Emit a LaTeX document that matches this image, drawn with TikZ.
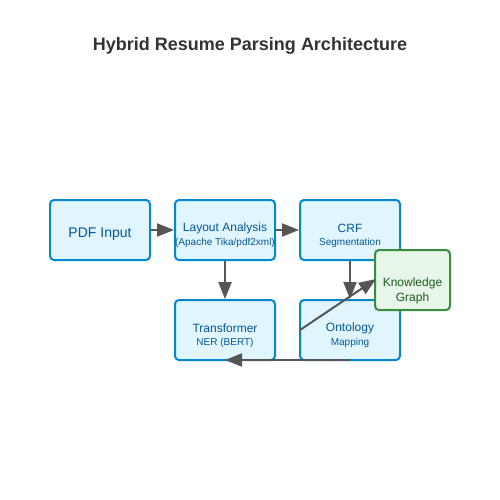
\documentclass[tikz,border=0pt]{standalone}
\usepackage{fontspec}
\setmainfont{Liberation Sans}
\usetikzlibrary{arrows.meta}
\definecolor{boxfill}{HTML}{E1F5FE}
\definecolor{boxline}{HTML}{0288D1}
\definecolor{boxtext}{HTML}{01579B}
\definecolor{kgfill}{HTML}{E8F5E9}
\definecolor{kgline}{HTML}{388E3C}
\definecolor{kgtext}{HTML}{1B5E20}
\definecolor{arr}{HTML}{555555}
\definecolor{ttl}{HTML}{333333}
\begin{document}
\begin{tikzpicture}[x=1pt,y=-1pt,
  box/.style={draw=boxline,fill=boxfill,line width=2pt,rounded corners=4pt,minimum width=100pt,minimum height=60pt,inner sep=0pt},
  kgbox/.style={draw=kgline,fill=kgfill,line width=2pt,rounded corners=4pt,minimum width=75pt,minimum height=60pt,inner sep=0pt},
  main/.style={text=boxtext,font=\fontsize{12}{14}\selectfont,inner sep=0pt},
  sub/.style={text=boxtext,font=\fontsize{10}{12}\selectfont,inner sep=0pt},
  conn/.style={draw=arr,line width=2pt,-{Triangle[length=17pt,width=13pt]}}]
\useasboundingbox (0,0) rectangle (500,500);
\node[text=ttl,font=\bfseries\fontsize{18}{22}\selectfont] (title) at (250,46) {Hybrid Resume Parsing Architecture};
\node[box] (pdf) at (100,230) {};
\node[box] (layout) at (225,230) {};
\node[box] (crf) at (350,230) {};
\node[box] (trans) at (225,330) {};
\node[box] (onto) at (350,330) {};
\node[main,font=\fontsize{14}{16}\selectfont] (pdft) at (100,234) {PDF Input};
\node[main] (layt) at (225,228) {Layout Analysis};
\node[sub] (lays) at (225,243) {(Apache Tika/pdf2xml)};
\node[main] (crft) at (350,228) {CRF};
\node[sub] (crfs) at (350,243) {Segmentation};
\node[main] (trat) at (225,328) {Transformer};
\node[sub] (tras) at (225,343) {NER (BERT)};
\node[main] (ontt) at (350,328) {Ontology};
\node[sub] (onts) at (350,343) {Mapping};
\coordinate (ontoL) at (300,330);
\coordinate (ontoB) at (350,360);
\coordinate (transB) at (225,360);
\coordinate (kgL) at (376,279);
\draw[conn] (pdf.east) -- (layout.west);
\draw[conn] (layout.east) -- (crf.west);
\draw[conn] (layout.south) -- (trans.north);
\draw[conn] (crf.south) -- (onto.north);
\draw[conn] (ontoB) -- (transB);
\node[kgbox] (kg) at (412.5,280) {};
\node[text=kgtext,font=\fontsize{12}{14}\selectfont,inner sep=0pt] (kgt1) at (412.5,283) {Knowledge};
\node[text=kgtext,font=\fontsize{12}{14}\selectfont,inner sep=0pt] (kgt2) at (412.5,298) {Graph};
\draw[conn] (ontoL) -- (kgL);
\end{tikzpicture}
\end{document}
